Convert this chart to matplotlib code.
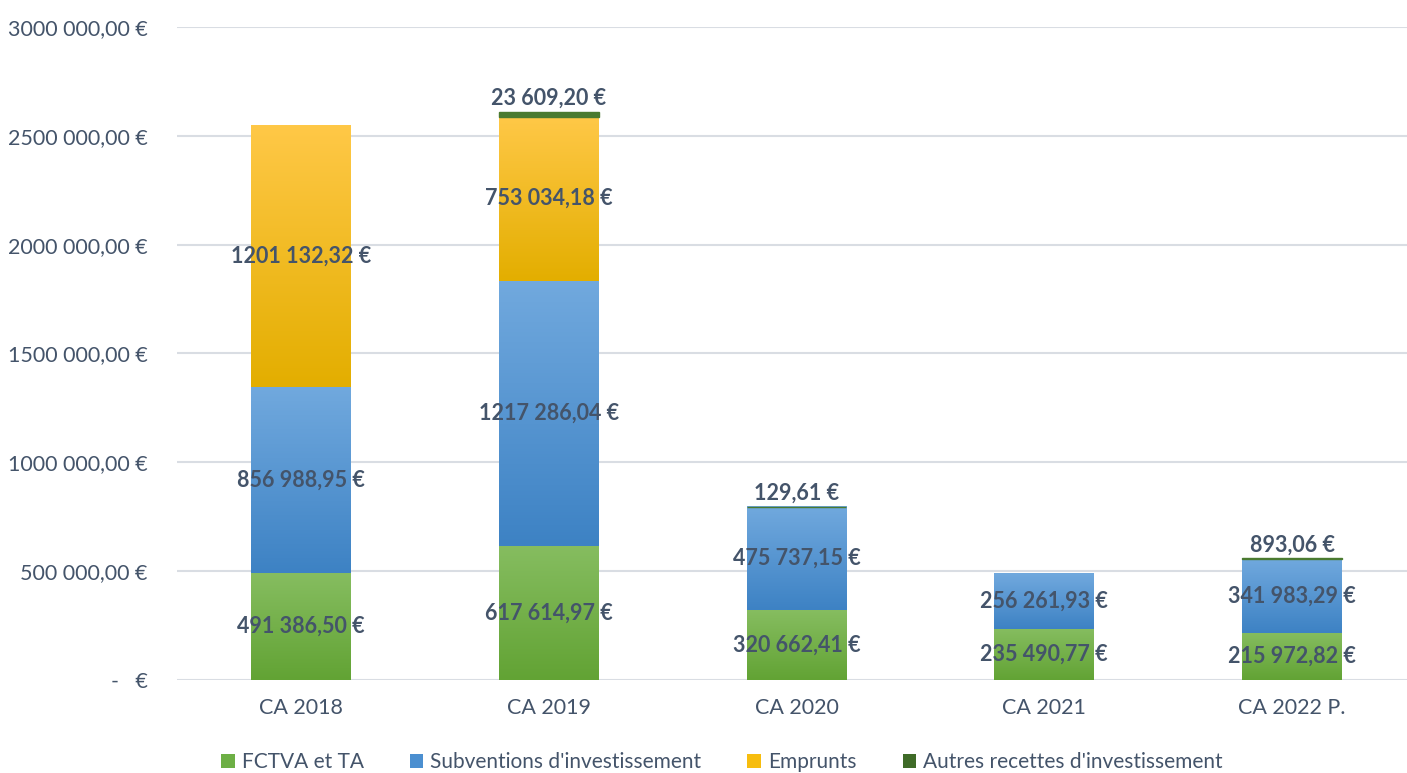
import matplotlib
matplotlib.use("Agg")
import matplotlib.pyplot as plt
import numpy as np
from matplotlib.colors import LinearSegmentedColormap, to_rgb
from matplotlib.patches import Patch

# ---- data ----
categories = ["CA 2018", "CA 2019", "CA 2020", "CA 2021", "CA 2022 P."]
series_names = ["FCTVA et TA", "Subventions d'investissement", "Emprunts",
                "Autres recettes d'investissement"]
fctva = [491386.50, 617614.97, 320662.41, 235490.77, 215972.82]
subventions = [856988.95, 1217286.04, 475737.15, 256261.93, 341983.29]
emprunts = [1201132.32, 753034.18, 0.0, 0.0, 0.0]
autres = [0.0, 23609.20, 129.61, 0.0, 893.06]
y_ticks = [0, 500000, 1000000, 1500000, 2000000, 2500000, 3000000]

# ---- styling ----
grad_colors = [("#86BD60", "#62A334"),   # green
               ("#71A9DE", "#3D82C4"),   # blue
               ("#FFC847", "#E3AE00"),   # yellow
               ("#4A7A30", "#3A6424")]   # dark green
legend_colors = ["#6DAF45", "#4B8FD0", "#F7BD0E", "#3F6B28"]
text_color = "#44546A"
grid_color = "#D9DDE3"
font = ["Lato", "DejaVu Sans"]
plt.rcParams['font.family'] = font


def fmt_eur(v):
    if v == 0:
        return "-   €"
    n = int(round(v * 100))
    ent, dec = divmod(n, 100)
    th, rem = divmod(ent, 1000)
    if th:
        s = f"{th} {rem:03d}"
    else:
        s = f"{rem}"
    return f"{s},{dec:02d} €"


fig = plt.figure(figsize=(14.07, 7.73), dpi=100)
ax = fig.add_axes([177 / 1407, 1 - 680 / 773, 1239 / 1407, (680 - 27) / 773])

x = np.arange(len(categories))
width = 0.403
all_series = [fctva, subventions, emprunts, autres]
bottom = np.zeros(len(categories))

for si, vals in enumerate(all_series):
    vals = np.array(vals)
    top_c, bot_c = grad_colors[si]
    cmap = LinearSegmentedColormap.from_list("g%d" % si, [to_rgb(bot_c), to_rgb(top_c)])
    for i, v in enumerate(vals):
        if v <= 0:
            continue
        b = bottom[i]
        if si == 3:
            ax.bar(x[i], v, width, bottom=b, color=top_c, edgecolor=top_c,
                   linewidth=1.0, zorder=3)
        else:
            grad = np.linspace(0, 1, 256).reshape(-1, 1)
            ax.imshow(grad, cmap=cmap, origin="lower", aspect="auto",
                      extent=(x[i] - width / 2, x[i] + width / 2, b, b + v),
                      zorder=3, interpolation="bilinear")
        if si == 3:
            ax.annotate(fmt_eur(v), (x[i], b + v), xytext=(0, 2),
                        textcoords="offset points", ha="center", va="bottom",
                        fontsize=15.5, fontweight="bold", color=text_color, zorder=5)
        else:
            ax.text(x[i], b + v / 2, fmt_eur(v), ha="center", va="center",
                    fontsize=15.5, fontweight="bold", color=text_color, zorder=5)
    bottom = bottom + vals

ax.set_xlim(-0.5, len(categories) - 0.5)
ax.set_ylim(0, 3000000)
ax.set_yticks(y_ticks)
ax.set_yticklabels([fmt_eur(t) for t in y_ticks])
ax.set_xticks(x)
ax.set_xticklabels(categories)
ax.tick_params(axis="both", length=0, labelsize=15.5, colors=text_color)
ax.tick_params(axis="y", pad=21)
ax.tick_params(axis="x", pad=13)
ax.grid(axis="y", color=grid_color, linewidth=1.5, zorder=0)
ax.set_axisbelow(True)
for s in ax.spines.values():
    s.set_visible(False)

handles = [Patch(facecolor=c, edgecolor="none") for c in legend_colors]
fig.legend(handles, series_names, loc="center", bbox_to_anchor=(722 / 1407, 1 - 762 / 773),
           ncol=4, frameon=False, fontsize=15, labelcolor=text_color,
           handlelength=0.65, handleheight=0.65, handletextpad=0.35, columnspacing=2.2)

fig.savefig("out.png", dpi=100)
